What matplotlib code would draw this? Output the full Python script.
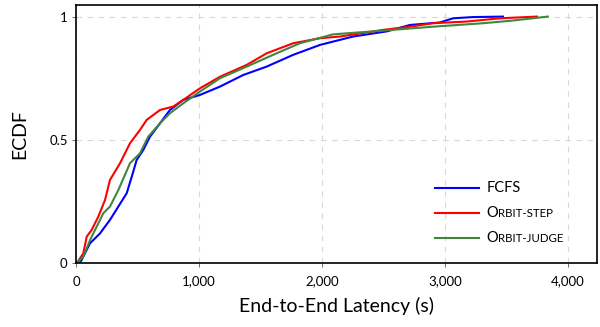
import matplotlib
matplotlib.use("Agg")
import matplotlib.pyplot as plt
from matplotlib.lines import Line2D
from matplotlib.offsetbox import AnchoredOffsetbox, VPacker, HPacker, TextArea, DrawingArea

plt.rcParams['font.family'] = ['Lato', 'DejaVu Sans']

# points: latency (s) and cumulative fraction
fcfs_lat = [33, 59, 114, 195, 276, 344, 412, 453, 493, 547, 602, 683, 764, 872, 1008,
            1171, 1360, 1550, 1767, 1984, 2252, 2528, 2715, 2959, 3065, 3228, 3472]
fcfs_cdf = [0, 0.026, 0.080, 0.120, 0.175, 0.229, 0.283, 0.350, 0.418, 0.459, 0.513, 0.567,
            0.621, 0.662, 0.682, 0.716, 0.763, 0.797, 0.845, 0.885, 0.919, 0.940, 0.966,
            0.976, 0.993, 0.998, 1.0]

step_lat = [8, 59, 87, 127, 181, 236, 276, 358, 439, 520, 575, 683, 791, 872, 1008, 1171,
            1388, 1550, 1767, 1984, 2146, 2496, 2715, 2902, 3179, 3447, 3748]
step_cdf = [0, 0.039, 0.107, 0.134, 0.188, 0.256, 0.337, 0.405, 0.486, 0.540, 0.581, 0.621,
            0.635, 0.662, 0.709, 0.756, 0.804, 0.851, 0.892, 0.912, 0.919, 0.946, 0.959,
            0.973, 0.980, 0.993, 1.0]

judge_lat = [8, 59, 114, 222, 276, 344, 439, 520, 588, 683, 764, 872, 1008, 1171, 1388,
             1604, 1821, 2092, 2496, 2902, 3309, 3553, 3837]
judge_cdf = [0, 0.026, 0.093, 0.202, 0.229, 0.296, 0.405, 0.445, 0.513, 0.567, 0.608, 0.648,
             0.696, 0.750, 0.797, 0.845, 0.892, 0.928, 0.943, 0.959, 0.973, 0.984, 1.0]

x_ticks = [0, 1000, 2000, 3000, 4000]
x_tick_labels = ['0', '1,000', '2,000', '3,000', '4,000']
y_ticks = [0, 0.5, 1]
y_tick_labels = ['0', '0.5', '1']

c_fcfs = '#0000ff'
c_step = '#ff0000'
c_judge = '#3f873f'

fig = plt.figure(figsize=(6, 3.27), dpi=100)
ax = fig.add_axes([0.1267, 0.1957, 0.868, 0.789])

ax.plot(fcfs_lat, fcfs_cdf, color=c_fcfs, lw=1.5)
ax.plot(step_lat, step_cdf, color=c_step, lw=1.5)
ax.plot(judge_lat, judge_cdf, color=c_judge, lw=1.5)

ax.set_xlim(0, 4235)
ax.set_ylim(0, 1.047)
ax.set_xticks(x_ticks)
ax.set_xticklabels(x_tick_labels, fontsize=9.5)
ax.set_yticks(y_ticks)
ax.set_yticklabels(y_tick_labels, fontsize=9.5)
ax.tick_params(length=3, width=0.6, color='#555555', pad=3)
ax.tick_params(axis='x', pad=6)
ax.grid(True, ls=(0, (5, 5)), color='#d8d8d8', lw=0.8)
for s in ax.spines.values():
    s.set_linewidth(1.2)

ax.set_xlabel('End-to-End Latency (s)', fontsize=14, labelpad=7)
ax.set_ylabel('ECDF', fontsize=14, labelpad=15)

# legend with small caps faked by two font sizes
def row(color, parts):
    da = DrawingArea(32, 8)
    da.add_artist(Line2D([0, 32], [4, 4], color=color, lw=1.5))
    texts = [TextArea(t, textprops=dict(fontsize=fs)) for t, fs in parts]
    label = HPacker(children=texts, sep=0, pad=0, align='baseline')
    return HPacker(children=[da, label], sep=5, pad=0, align='center')

rows = [
    row(c_fcfs, [('FCFS', 10.5)]),
    row(c_step, [('O', 10.5), ('RBIT-STEP', 8.3)]),
    row(c_judge, [('O', 10.5), ('RBIT-JUDGE', 8.3)]),
]
box = VPacker(children=rows, sep=8, pad=0, align='left')
anchored = AnchoredOffsetbox(loc='lower left', child=box, pad=0, frameon=False,
                             bbox_to_anchor=(0.689, 0.068), bbox_transform=ax.transAxes,
                             borderpad=0)
ax.add_artist(anchored)

fig.savefig('out.png', dpi=100)
